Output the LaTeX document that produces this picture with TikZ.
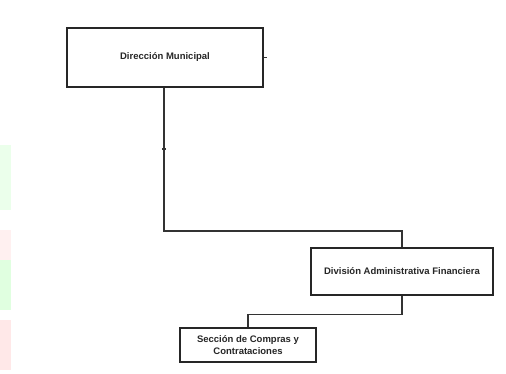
\documentclass[tikz,border=0pt]{standalone}
\usepackage{fontspec}
\setmainfont{Liberation Sans}
\begin{document}
\begin{tikzpicture}[x=1pt,y=-1pt]
 \tikzstyle{caja}=[rectangle, draw=black!85, line width=1.4pt, text=black!85, align=center, inner sep=0pt, font=\fontsize{9.5}{12}\selectfont\bfseries]
 \tikzstyle{enlace}=[draw=black!80, line width=1.3pt]
 \useasboundingbox (0,0) rectangle (506,374);
 % franja de fondo
 \fill[green!8] (0,145) rectangle (11,210);
 \fill[red!6] (0,230) rectangle (11,260);
 \fill[green!12] (0,260) rectangle (11,310);
 \fill[red!9] (0,320) rectangle (11,370);
 %
 \node[caja, minimum width=196pt, minimum height=59pt] (DM) at (165, 57.5) {Direcci\'on Municipal};
 \node[caja, minimum width=182pt, minimum height=47pt] (DAF) at (402, 271.5) {Divisi\'on Administrativa Financiera};
 \node[caja, minimum width=136pt, minimum height=34pt] (SCC) at (248, 345) {Secci\'on de Compras y\\Contrataciones};
 %
 \coordinate (tic) at ([xshift=3pt]DM.east);
 \coordinate (marca) at (164,149);
 %%
 \draw[enlace] (DM.east)--(tic);
 \draw[enlace] (DM.south -| marca)--(marca) |- (164,231) -| (DAF.north);
 \draw[enlace] ([xshift=-2pt]marca)--([xshift=2pt]marca);
 \draw[enlace] (DAF.south)--++(0,19) -| (SCC.north);
\end{tikzpicture}
\end{document}
